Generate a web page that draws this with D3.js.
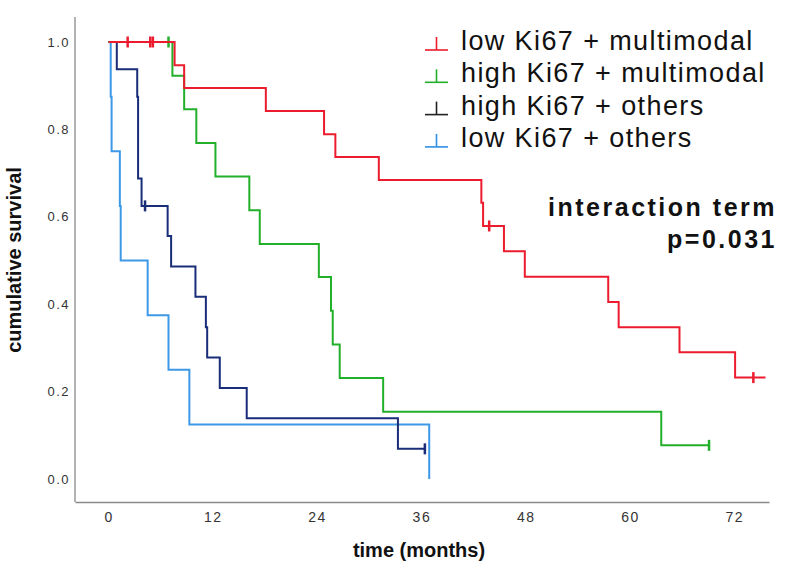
<!DOCTYPE html>
<html><head><meta charset="utf-8">
<script src="https://cdn.jsdelivr.net/npm/d3@7"></script>
<style>
html,body{margin:0;padding:0;background:#fff;}
svg{display:block;font-family:"Liberation Sans",Arial,sans-serif;}
</style></head>
<body><svg id="chart" width="792" height="577"></svg>
<script>
// ---- data ----
const seriesNames = ["low Ki67 + multimodal","high Ki67 + multimodal","high Ki67 + others","low Ki67 + others"];
const redTimes  = [0, 7.6, 8.7, 18.1, 24.8, 26.1, 31.1, 42.9, 43.1, 45.5, 47.9, 57.5, 58.7, 65.7, 72.1];
const redSurv   = [1, 0.947, 0.895, 0.842, 0.789, 0.737, 0.684, 0.632, 0.579, 0.521, 0.463, 0.405, 0.347, 0.290, 0.232];
const redEnd = 75.6;
const redCensor = [2.2, 4.8, 5.1, 43.8, 74.2];

const greenTimes = [0, 7.35, 8.7, 10.1, 12.3, 16.2, 17.4, 24.2, 25.6, 25.8, 26.6, 31.6, 63.6];
const greenSurv  = [1, 0.923, 0.846, 0.769, 0.692, 0.615, 0.538, 0.462, 0.385, 0.308, 0.231, 0.154, 0.077];
const greenEnd = 69.1;
const greenCensor = [6.9, 69.1];

const navyTimes = [0, 0.95, 3.3, 3.4, 3.8, 6.8, 7.2, 10.0, 11.2, 11.35, 12.8, 15.9, 33.3];
const navySurv  = [1, 0.9375, 0.875, 0.6875, 0.625, 0.556, 0.486, 0.417, 0.347, 0.278, 0.208, 0.139, 0.069];
const navyEnd = 36.4;
const navyCensor = [4.2, 36.4];

const blueTimes = [0, 0.25, 0.35, 1.3, 1.4, 4.5, 6.9, 9.3, 36.9];
const blueSurv  = [1, 0.875, 0.75, 0.625, 0.5, 0.375, 0.25, 0.125, 0];
const blueEnd = 36.9;
const blueCensor = [];

const xTicks = [0, 12, 24, 36, 48, 60, 72];
const yTicks = [0, 0.2, 0.4, 0.6, 0.8, 1.0];

// ---- layout ----
const svg = d3.select("#chart");
const x = d3.scaleLinear().domain([-3.86, 76]).range([75, 769]);
const y = d3.scaleLinear().domain([0, 1]).range([479, 42]);

const series = [
  {name: seriesNames[0], t: redTimes, s: redSurv, end: redEnd, c: redCensor, color: "#ec1c2e", leg: "#ec1c2e"},
  {name: seriesNames[1], t: greenTimes, s: greenSurv, end: greenEnd, c: greenCensor, color: "#22b02a", leg: "#22b02a"},
  {name: seriesNames[2], t: navyTimes, s: navySurv, end: navyEnd, c: navyCensor, color: "#1a2d78", leg: "#222222"},
  {name: seriesNames[3], t: blueTimes, s: blueSurv, end: blueEnd, c: blueCensor, color: "#3d98e6", leg: "#2e8fe6"}
];

// axes
const axisColor = "#8a8a8a";
const gx = svg.append("g").attr("transform", "translate(0,502)")
  .call(d3.axisBottom(x).tickValues(xTicks).tickSize(0).tickPadding(10).tickFormat(d3.format("d")));
gx.select(".domain").attr("stroke", axisColor).attr("stroke-width", 1.3);
gx.selectAll("text").attr("font-size", 14).attr("fill", "#333").attr("letter-spacing", 1.5)
  .attr("font-family", "Liberation Sans, Arial, sans-serif");

const gy = svg.append("g").attr("transform", "translate(75,0)")
  .call(d3.axisLeft(y).tickValues(yTicks).tickSize(0).tickPadding(5).tickFormat(d3.format(".1f")));
gy.select(".domain").attr("stroke", axisColor).attr("stroke-width", 1.3).attr("d", "M0,17V502");
gy.selectAll("text").attr("font-size", 13).attr("fill", "#333").attr("letter-spacing", 1.5)
  .attr("font-family", "Liberation Sans, Arial, sans-serif");

// curves (reverse order so red on top)
const line = d3.line().x(d => x(d[0])).y(d => y(d[1])).curve(d3.curveStepAfter);
const drawOrder = [3, 2, 1, 0];
drawOrder.forEach(i => {
  const sr = series[i];
  const pts = sr.t.map((t, k) => [t, sr.s[k]]);
  pts.push([sr.end, sr.s[sr.s.length - 1]]);
  svg.append("path").attr("d", line(pts)).attr("fill", "none")
    .attr("stroke", sr.color).attr("stroke-width", 2);
  const survAt = t => { let v = 1; sr.t.forEach((tt, k) => { if (tt <= t) v = sr.s[k]; }); return v; };
  svg.append("g").selectAll("line").data(sr.c).join("line")
    .attr("x1", d => x(d)).attr("x2", d => x(d))
    .attr("y1", d => y(survAt(d)) - 5.5).attr("y2", d => y(survAt(d)) + 5.5)
    .attr("stroke", sr.color).attr("stroke-width", 2.5);
});

// legend
const leg = svg.append("g");
series.forEach((sr, i) => {
  const yy = 50 + i * 32.3;
  leg.append("line").attr("x1", 425).attr("x2", 448).attr("y1", yy).attr("y2", yy)
    .attr("stroke", sr.leg).attr("stroke-width", 1.6);
  leg.append("line").attr("x1", 436.5).attr("x2", 436.5).attr("y1", yy - 13).attr("y2", yy)
    .attr("stroke", sr.leg).attr("stroke-width", 1.6);
  leg.append("text").attr("x", 461).attr("y", yy).attr("font-size", 27)
    .attr("letter-spacing", 1.4).attr("fill", "#111").text(sr.name);
});

// annotation
svg.append("text").attr("x", 777).attr("y", 216).attr("text-anchor", "end")
  .attr("font-size", 25).attr("font-weight", "bold").attr("letter-spacing", 2.5).attr("fill", "#111")
  .text("interaction term");
svg.append("text").attr("x", 777).attr("y", 248).attr("text-anchor", "end")
  .attr("font-size", 25).attr("font-weight", "bold").attr("letter-spacing", 2.5).attr("fill", "#111")
  .text("p=0.031");

// axis titles
svg.append("text").attr("x", 419).attr("y", 557).attr("text-anchor", "middle")
  .attr("font-size", 20).attr("font-weight", "bold").attr("fill", "#111").text("time (months)");
svg.append("text").attr("transform", "translate(21,260) rotate(-90)").attr("text-anchor", "middle")
  .attr("font-size", 20).attr("font-weight", "bold").attr("fill", "#111").text("cumulative survival");
</script></body></html>
